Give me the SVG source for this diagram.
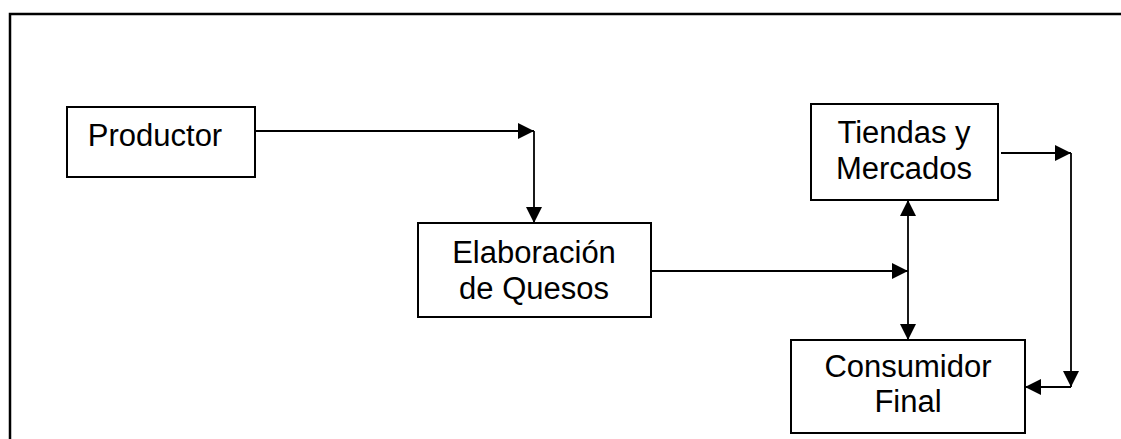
<svg xmlns="http://www.w3.org/2000/svg" width="1121" height="439" viewBox="0 0 1121 439">
<defs>
<style>
.box{fill:#fff;stroke:#000;stroke-width:2}
.lbl{font-family:"Liberation Sans",Arial,sans-serif;font-size:31px;fill:#000;text-anchor:middle}
.con{fill:none;stroke:#000;stroke-width:1.8}
.frame{fill:none;stroke:#000;stroke-width:2.5}
</style>
<marker id="arr" markerUnits="userSpaceOnUse" markerWidth="16" markerHeight="16" viewBox="0 0 14 14" refX="14" refY="7" orient="auto-start-reverse">
<path d="M0,0 L14,7 L0,14 Z" fill="#000"/>
</marker>
</defs>
<rect width="1121" height="439" fill="#fff"/>
<path class="frame" d="M10,439 V14 H1121"/>
<g id="productor">
<rect class="box" x="67" y="107" width="188" height="70"/>
<text class="lbl" x="155" y="146">Productor</text>
</g>
<g id="elaboracion">
<rect class="box" x="418" y="223" width="233" height="94"/>
<text class="lbl" x="534" y="263">Elaboración</text>
<text class="lbl" x="534" y="299">de Quesos</text>
</g>
<g id="tiendas">
<rect class="box" x="811" y="104" width="187" height="96"/>
<text class="lbl" x="904" y="143">Tiendas y</text>
<text class="lbl" x="904" y="179">Mercados</text>
</g>
<g id="consumidor">
<rect class="box" x="791" y="340" width="234" height="93"/>
<text class="lbl" x="908" y="377">Consumidor</text>
<text class="lbl" x="908" y="412">Final</text>
</g>
<g id="connectors">
<line class="con" x1="255" y1="131" x2="534" y2="131" marker-end="url(#arr)"/>
<line class="con" x1="534" y1="131" x2="534" y2="223" marker-end="url(#arr)"/>
<line class="con" x1="651" y1="271" x2="908" y2="271" marker-end="url(#arr)"/>
<line class="con" x1="908" y1="200" x2="908" y2="340" marker-start="url(#arr)" marker-end="url(#arr)"/>
<line class="con" x1="1001" y1="153" x2="1071" y2="153" marker-end="url(#arr)"/>
<line class="con" x1="1071" y1="153" x2="1071" y2="387" marker-end="url(#arr)"/>
<line class="con" x1="1071" y1="387" x2="1025" y2="387" marker-end="url(#arr)"/>
</g>
</svg>
